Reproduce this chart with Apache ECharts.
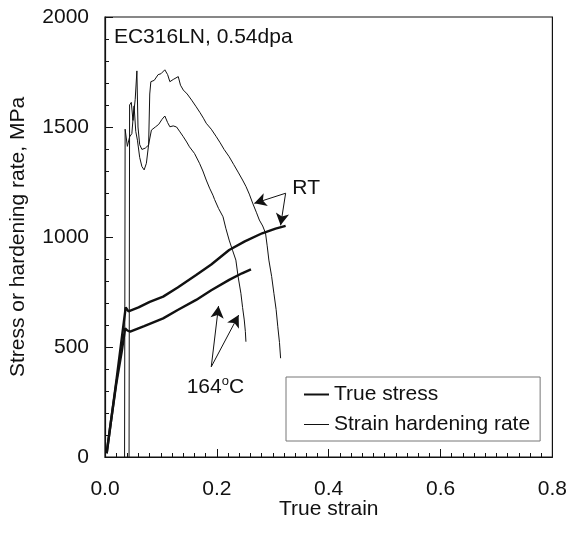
<!DOCTYPE html>
<html>
<head>
<meta charset="utf-8">
<script src="https://cdn.jsdelivr.net/npm/echarts@6/dist/echarts.min.js"></script>
<style>
html,body{margin:0;padding:0;background:#fff;}
#main{width:570px;height:534px;}
</style>
</head>
<body>
<div id="main"></div>
<script>
// true stress, RT (upper thick curve)
var stressRT = [[0.003,17],[0.010,150],[0.020,340],[0.030,540],[0.037,680],[0.039,672],[0.042,662],[0.060,680],[0.080,705],[0.104,729],[0.130,770],[0.163,827],[0.190,875],[0.222,941],[0.250,980],[0.281,1017],[0.305,1038],[0.323,1051]];
// true stress, 164C (lower thick curve)
var stress164 = [[0.003,17],[0.010,150],[0.020,330],[0.030,480],[0.036,585],[0.040,575],[0.045,570],[0.070,595],[0.104,630],[0.130,668],[0.163,714],[0.190,758],[0.222,805],[0.245,835],[0.261,853]];
// strain hardening rate, RT (upper thin curve)
var hardRT = [[0.043,0],[0.044,1600],[0.047,1612],[0.050,1530],[0.054,1625],[0.057,1755],[0.059,1500],[0.062,1420],[0.066,1398],[0.072,1404],[0.078,1418],[0.080,1650],[0.082,1706],[0.088,1712],[0.095,1738],[0.100,1742],[0.107,1760],[0.112,1738],[0.116,1706],[0.122,1716],[0.131,1729],[0.135,1690],[0.140,1668],[0.147,1650],[0.155,1622],[0.163,1592],[0.170,1565],[0.176,1540],[0.181,1517],[0.190,1490],[0.199,1456],[0.206,1428],[0.213,1398],[0.222,1365],[0.230,1330],[0.238,1295],[0.246,1259],[0.252,1230],[0.258,1195],[0.264,1154],[0.267,1153],[0.271,1110],[0.276,1077],[0.282,1050],[0.287,1018],[0.290,960],[0.293,895],[0.298,820],[0.302,744],[0.306,670],[0.309,592],[0.312,520],[0.314,449]];
// strain hardening rate, 164C (lower thin curve)
var hard164 = [[0.035,0],[0.036,1490],[0.040,1412],[0.044,1455],[0.048,1470],[0.052,1596],[0.055,1480],[0.058,1440],[0.062,1362],[0.066,1320],[0.070,1305],[0.074,1335],[0.078,1420],[0.083,1486],[0.090,1500],[0.096,1512],[0.102,1535],[0.107,1550],[0.112,1520],[0.116,1501],[0.122,1505],[0.128,1500],[0.134,1478],[0.140,1456],[0.146,1432],[0.151,1410],[0.160,1380],[0.169,1335],[0.175,1300],[0.181,1259],[0.187,1222],[0.193,1190],[0.196,1170],[0.203,1130],[0.211,1092],[0.216,1040],[0.222,986],[0.228,940],[0.234,895],[0.238,820],[0.243,744],[0.246,680],[0.249,623],[0.251,570],[0.252,524]];

var xTicks = [0, 0.2, 0.4, 0.6, 0.8];
var yTicks = [0, 500, 1000, 1500, 2000];

var font = 'Liberation Sans, Arial, sans-serif';
var ink = '#111';
var fs = 21;

var chart = echarts.init(document.getElementById('main'));

function arrow(from, to) {
  return [{coord: from, symbol: 'none'}, {coord: to, symbol: 'arrow'}];
}

var option = {
  backgroundColor: '#fff',
  animation: false,
  grid: {left: 103, top: 17, width: 451, height: 440, show: true, borderColor: ink, borderWidth: 1.2, backgroundColor: 'transparent'},
  legend: {
    left: 286, top: 377, orient: 'vertical',
    padding: [7, 10, 6, 18], itemGap: 9,
    itemWidth: 25, itemHeight: 14,
    borderColor: '#777', borderWidth: 1,
    textStyle: {fontFamily: font, fontSize: fs, color: ink},
    data: [
      {name: 'True stress', icon: 'path://M0,0H40V3.2H0Z'},
      {name: 'Strain hardening rate', icon: 'path://M0,0H40V1.6H0Z'}
    ]
  },
  xAxis: {
    type: 'value', min: xTicks[0], max: xTicks[xTicks.length - 1], interval: 0.2,
    name: 'True strain', nameLocation: 'middle', nameGap: 42, nameMoveOverlap: false,
    nameTextStyle: {fontFamily: font, fontSize: fs, color: ink},
    axisLine: {show: true, lineStyle: {color: ink, width: 1.2}},
    axisTick: {show: true, inside: true, length: 8, lineStyle: {color: ink}},
    minorTick: {show: true, splitNumber: 10, length: 4, lineStyle: {color: ink}},
    splitLine: {show: false},
    axisLabel: {margin: 22, fontFamily: font, fontSize: fs, color: ink, formatter: function (v) { return v.toFixed(1); }}
  },
  yAxis: {
    type: 'value', min: yTicks[0], max: yTicks[yTicks.length - 1], interval: 500,
    name: 'Stress or hardening rate, MPa', nameLocation: 'middle', nameGap: 76, nameMoveOverlap: false,
    nameTextStyle: {fontFamily: font, fontSize: fs, color: ink},
    axisLine: {show: true, lineStyle: {color: ink, width: 1.2}},
    axisTick: {show: true, inside: true, length: 8, lineStyle: {color: ink}},
    minorTick: {show: true, splitNumber: 5, length: 4, lineStyle: {color: ink}},
    splitLine: {show: false},
    axisLabel: {margin: 16, fontFamily: font, fontSize: fs, color: ink, formatter: function (v) { return String(v); }}
  },
  series: [
    {
      name: 'True stress', type: 'line', data: stressRT, symbol: 'none',
      lineStyle: {color: ink, width: 2.4}, itemStyle: {color: ink},
      markLine: {
        silent: true, symbolSize: [10, 12], animation: false,
        lineStyle: {color: ink, width: 1, type: 'solid'}, label: {show: false},
        data: [arrow([0.323, 1199], [0.267, 1153]), arrow([0.323, 1199], [0.314, 1053]),
               arrow([0.190, 410], [0.203, 686]), arrow([0.190, 410], [0.239, 645])]
      }
    },
    {name: 'True stress', type: 'line', data: stress164, symbol: 'none', lineStyle: {color: ink, width: 2.4}, itemStyle: {color: ink}},
    {name: 'Strain hardening rate', type: 'line', data: hardRT, symbol: 'none', lineStyle: {color: ink, width: 1}, itemStyle: {color: ink}},
    {name: 'Strain hardening rate', type: 'line', data: hard164, symbol: 'none', lineStyle: {color: ink, width: 1}, itemStyle: {color: ink}}
  ]
};
chart.setOption(option);

// text annotations placed through the axes
var pTitle = chart.convertToPixel({gridIndex: 0}, [0.016, 1900]);
var pRT = chart.convertToPixel({gridIndex: 0}, [0.335, 1215]);
var p164 = chart.convertToPixel({gridIndex: 0}, [0.146, 318]);
chart.setOption({
  graphic: [
    {type: 'text', left: pTitle[0], top: pTitle[1] - 12, style: {text: 'EC316LN, 0.54dpa', font: fs + 'px ' + font, fill: ink}},
    {type: 'text', left: pRT[0], top: pRT[1] - 12, style: {text: 'RT', font: fs + 'px ' + font, fill: ink}},
    {type: 'text', left: p164[0], top: p164[1] - 12, style: {
      text: '164{s|o}C', font: fs + 'px ' + font, fill: ink,
      rich: {s: {fontSize: 13, fontFamily: font, verticalAlign: 'top', padding: [0, 0, 11, 0]}}
    }}
  ]
});
</script>
</body>
</html>
